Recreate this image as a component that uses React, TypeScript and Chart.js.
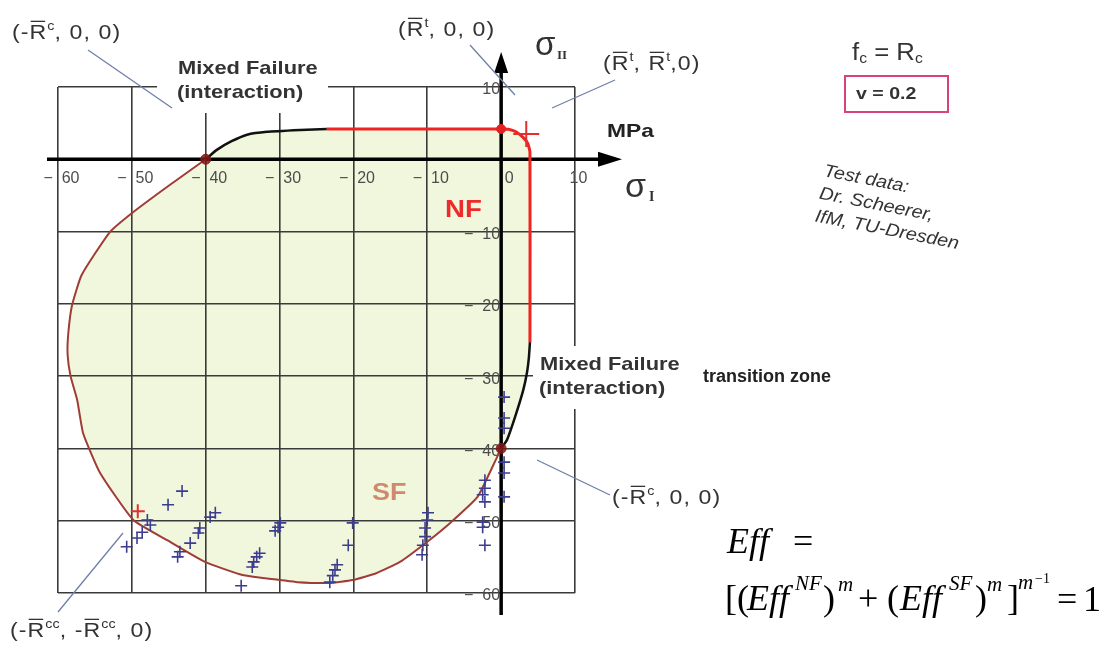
import { useEffect, useRef } from 'react';
import { Chart, registerables } from 'chart.js';

Chart.register(...registerables);

type Pt = [number, number];

// Failure envelope in the (σI, σII) plane, MPa – split by failure mode
const mixedTop: Pt[] = [
  [-40, 0], [-38.5, 1.3], [-36.5, 2.5], [-34.4, 3.4], [-31.7, 3.8], [-27.2, 4.05], [-23.6, 4.2],
];
const normalFracture: Pt[] = [
  [-23.6, 4.2], [0, 4.2], [1, 4.15], [2, 3.8], [3, 3.0], [3.6, 2.2], [3.9, 1.0], [3.9, -25.3],
];
const mixedTransition: Pt[] = [
  [3.9, -25.3], [3.75, -27.5], [3.5, -29.5], [3.0, -31.9], [1.9, -35.6], [0.8, -38.8], [0, -40],
];
const shearFracture: Pt[] = [
  [0, -40], [-1.2, -42.6], [-3.2, -46.7], [-6.9, -50.3], [-10, -52.9], [-13.7, -55.7], [-17, -57.3],
  [-20.1, -58.2], [-23.2, -58.6], [-27.6, -58.5], [-29.9, -58.2], [-32.5, -57.9], [-35.4, -57.4],
  [-40.1, -55.7], [-45.2, -52.7], [-49.8, -49.9], [-54.3, -43.4], [-56.6, -37.9], [-57.4, -33.3],
  [-58.3, -30], [-58.7, -27], [-58.6, -24], [-58.1, -20.2], [-56.8, -16], [-53, -10.1],
  [-49.8, -7.3], [-45.2, -3.8], [-40, 0],
];

// Biaxial test results (Scheerer, IfM TU Dresden)
const testData: Pt[] = [
  [-43.2, -45.9], [-45.1, -47.8], [-47.9, -49.9], [-47.5, -50.6], [-48.6, -51.6], [-49.3, -52.4], [-50.7, -53.6],
  [-38.7, -48.9], [-39.4, -49.5], [-40.8, -51.0], [-41.0, -51.7], [-42.1, -53.1], [-43.5, -54.3], [-43.8, -55.0],
  [-29.9, -50.3], [-30.2, -50.9], [-30.6, -51.4], [-32.7, -54.5], [-33.1, -55.0], [-33.5, -55.7], [-33.7, -56.4], [-35.2, -59.0],
  [-20.1, -50.3], [-20.7, -53.4], [-22.2, -56.1], [-22.5, -56.8], [-22.8, -57.6], [-23.2, -58.5],
  [-9.9, -48.9], [-10.0, -49.9], [-10.3, -51.0], [-10.3, -52.2], [-10.6, -53.4], [-10.7, -54.7],
  [-2.2, -44.4], [-2.2, -45.5], [-2.5, -46.4], [-2.2, -47.4], [-2.5, -50.2], [-2.5, -50.9], [-2.2, -53.4],
  [0.4, -32.9], [0.4, -35.8], [0.4, -37.2], [0.4, -41.9], [0.4, -43.4], [0.4, -46.7],
];

// Characteristic strength points
const uniaxialPoints: Pt[] = [[-40, 0], [0, -40]];
const tensilePoint: Pt[] = [[0, 4.2]];
const biaxialPoints: Pt[] = [[3.4, 3.5], [-49.2, -48.7]];

// Axis tick values
const xTicks = [-60, -50, -40, -30, -20, -10, 0, 10];
const yTicks = [10, -10, -20, -30, -40, -50, -60];

const SANS = "'Liberation Sans', Arial, sans-serif";
const SERIF = "'Liberation Serif', 'Times New Roman', serif";
const FILL = '#f1f7dc';

type Run = { t: string; sup?: boolean; sub?: boolean; bar?: boolean };
type RunOpts = {
  size: number; weight?: string; style?: string; color?: string; ls?: number; family?: string; sx?: number;
};

// Draws a sequence of text runs (with super/subscripts and overbars), optionally stretched horizontally
function drawRuns(ctx: CanvasRenderingContext2D, x: number, y: number, parts: Run[], o: RunOpts) {
  const family = o.family ?? SANS;
  ctx.save();
  ctx.translate(x, y);
  ctx.scale(o.sx ?? 1, 1);
  ctx.fillStyle = o.color ?? '#333';
  ctx.strokeStyle = o.color ?? '#333';
  ctx.textAlign = 'left';
  ctx.textBaseline = 'alphabetic';
  let cx = 0;
  for (const r of parts) {
    const small = r.sup || r.sub;
    const size = small ? Math.round(o.size * 0.62) : o.size;
    ctx.font = `${o.style ?? 'normal'} ${o.weight ?? 'normal'} ${size}px ${family}`;
    (ctx as any).letterSpacing = `${small ? 0 : o.ls ?? 0}px`;
    const dy = r.sup ? -o.size * 0.42 : r.sub ? o.size * 0.12 : 0;
    ctx.fillText(r.t, cx, dy);
    const w = ctx.measureText(r.t).width;
    if (r.bar) {
      ctx.lineWidth = 1.3;
      ctx.beginPath();
      ctx.moveTo(cx + 1, -o.size * 0.84);
      ctx.lineTo(cx + w - (o.ls ?? 0) - 1, -o.size * 0.84);
      ctx.stroke();
    }
    cx += w;
  }
  (ctx as any).letterSpacing = '0px';
  ctx.restore();
}

function text(ctx: CanvasRenderingContext2D, s: string, x: number, y: number, o: RunOpts) {
  drawRuns(ctx, x, y, [{ t: s }], o);
}

const envelopePlugin = {
  id: 'envelope',
  beforeDraw(chart: any) {
    const { ctx, scales } = chart;
    const xs = scales.x;
    const ys = scales.y;
    ctx.save();
    ctx.fillStyle = '#ffffff';
    ctx.fillRect(0, 0, chart.width, chart.height);
    // shaded area enclosed by the failure envelope
    const boundary = [...mixedTop, ...normalFracture, ...mixedTransition, ...shearFracture];
    ctx.beginPath();
    boundary.forEach(([vx, vy], i) => {
      const px = xs.getPixelForValue(vx);
      const py = ys.getPixelForValue(vy);
      if (i === 0) ctx.moveTo(px, py);
      else ctx.lineTo(px, py);
    });
    ctx.closePath();
    ctx.fillStyle = FILL;
    ctx.fill();
    ctx.restore();
  },
  beforeDatasetsDraw(chart: any) {
    const { ctx, scales, chartArea } = chart;
    const xs = scales.x;
    const ys = scales.y;
    const x0 = xs.getPixelForValue(0);
    const y0 = ys.getPixelForValue(0);
    ctx.save();
    // white backing behind the "Mixed Failure" captions
    ctx.fillStyle = '#ffffff';
    ctx.fillRect(157, 45, 171, 68);
    ctx.fillRect(533, 346, 160, 63);

    // coordinate axes with arrow heads
    ctx.strokeStyle = '#000';
    ctx.fillStyle = '#000';
    ctx.lineWidth = 3.5;
    const xEnd = chartArea.right + 47;
    const yTop = chartArea.top - 35;
    ctx.beginPath();
    ctx.moveTo(chartArea.left - 11, y0);
    ctx.lineTo(xEnd - 20, y0);
    ctx.moveTo(x0, chartArea.bottom + 22);
    ctx.lineTo(x0, yTop + 18);
    ctx.stroke();
    ctx.beginPath();
    ctx.moveTo(xEnd, y0);
    ctx.lineTo(xEnd - 24, y0 - 7.5);
    ctx.lineTo(xEnd - 24, y0 + 7.5);
    ctx.closePath();
    ctx.fill();
    ctx.beginPath();
    ctx.moveTo(x0, yTop);
    ctx.lineTo(x0 - 7, yTop + 21);
    ctx.lineTo(x0 + 7, yTop + 21);
    ctx.closePath();
    ctx.fill();

    // tick labels placed along the axes
    ctx.font = `16px ${SANS}`;
    ctx.fillStyle = '#4d4d4d';
    ctx.textBaseline = 'middle';
    ctx.textAlign = 'center';
    xTicks.forEach((v) => {
      const label = v < 0 ? `\u2212  ${-v}` : v === 0 ? '  0' : `${v}`;
      ctx.fillText(label, xs.getPixelForValue(v) + 3.5, y0 + 19);
    });
    ctx.textAlign = 'right';
    yTicks.forEach((v) => {
      const label = v < 0 ? `\u2212  ${-v}` : `${v}`;
      ctx.fillText(label, x0 - 1, ys.getPixelForValue(v) + 3);
    });
    ctx.restore();
  },
  afterDraw(chart: any) {
    const ctx: CanvasRenderingContext2D = chart.ctx;
    ctx.save();

    // leader lines to the strength points
    ctx.strokeStyle = '#6f7fa8';
    ctx.lineWidth = 1.3;
    const leaders: [number, number, number, number][] = [
      [88, 50, 172, 108],
      [470, 45, 515, 95],
      [615, 80, 552, 108],
      [537, 460, 610, 495],
      [123, 533, 58, 612],
    ];
    leaders.forEach(([a, b, c, d]) => {
      ctx.beginPath();
      ctx.moveTo(a, b);
      ctx.lineTo(c, d);
      ctx.stroke();
    });

    const coord: RunOpts = { size: 21, color: '#333', ls: 1, sx: 1.1 };
    drawRuns(ctx, 12, 39, [{ t: '(-' }, { t: 'R', bar: true }, { t: 'c', sup: true }, { t: ', 0, 0)' }], coord);
    drawRuns(ctx, 398, 36, [{ t: '(' }, { t: 'R', bar: true }, { t: 't', sup: true }, { t: ', 0, 0)' }], coord);
    drawRuns(ctx, 603, 70, [{ t: '(' }, { t: 'R', bar: true }, { t: 't', sup: true }, { t: ', ' }, { t: 'R', bar: true }, { t: 't', sup: true }, { t: ',0)' }], coord);
    drawRuns(ctx, 612, 504, [{ t: '(-' }, { t: 'R', bar: true }, { t: 'c', sup: true }, { t: ', 0, 0)' }], coord);
    drawRuns(ctx, 10, 637, [{ t: '(-' }, { t: 'R', bar: true }, { t: 'cc', sup: true }, { t: ', -' }, { t: 'R', bar: true }, { t: 'cc', sup: true }, { t: ', 0)' }], coord);

    const caption: RunOpts = { size: 19, weight: 'bold', color: '#333', sx: 1.15 };
    text(ctx, 'Mixed Failure', 178, 74, caption);
    text(ctx, '(interaction)', 177, 98, caption);
    text(ctx, 'Mixed Failure', 540, 370, caption);
    text(ctx, '(interaction)', 539, 394, caption);
    text(ctx, 'transition zone', 703, 382, { size: 18, weight: 'bold', color: '#222' });
    text(ctx, 'MPa', 607, 137, { size: 19, weight: 'bold', color: '#222', sx: 1.2 });
    text(ctx, 'NF', 445, 217, { size: 24, weight: 'bold', color: '#ee2b2b', sx: 1.15 });
    text(ctx, 'SF', 372, 500, { size: 24, weight: 'bold', color: '#cf8a6e', sx: 1.12 });

    // axis names
    text(ctx, '\u03c3', 535, 55, { size: 33, color: '#333' });
    text(ctx, 'II', 557, 59, { size: 13, weight: 'bold', color: '#333', family: SERIF });
    text(ctx, '\u03c3', 625, 197, { size: 34, color: '#333' });
    text(ctx, 'I', 649, 201, { size: 14, weight: 'bold', color: '#333', family: SERIF });

    // material parameters
    drawRuns(ctx, 852, 60, [{ t: 'f' }, { t: 'c', sub: true }, { t: ' = R' }, { t: 'c', sub: true }], { size: 23, color: '#333', sx: 1.12 });
    ctx.strokeStyle = '#d9417b';
    ctx.lineWidth = 2;
    ctx.strokeRect(845, 76, 103, 36);
    text(ctx, 'v = 0.2', 856, 99, { size: 17, weight: 'bold', color: '#333', sx: 1.15 });

    // data source note
    ctx.save();
    ctx.translate(823, 176);
    ctx.rotate((11 * Math.PI) / 180);
    const note: RunOpts = { size: 18, style: 'italic', color: '#333', sx: 1.1 };
    text(ctx, 'Test data:', 0, 0, note);
    text(ctx, 'Dr. Scheerer,', 0, 23, note);
    text(ctx, 'IfM, TU-Dresden', 0, 46, note);
    ctx.restore();

    // interaction formula
    const it: RunOpts = { size: 36, style: 'italic', color: '#000', family: SERIF };
    const up: RunOpts = { size: 36, color: '#000', family: SERIF };
    const sm: RunOpts = { size: 21, style: 'italic', color: '#000', family: SERIF };
    text(ctx, 'Eff', 727, 553, it);
    text(ctx, '=', 793, 553, up);
    text(ctx, '[(', 725, 610, up);
    text(ctx, 'Eff', 747, 610, it);
    text(ctx, 'NF', 795, 590, sm);
    text(ctx, ')', 823, 610, up);
    text(ctx, 'm', 838, 591, sm);
    text(ctx, '+', 858, 610, up);
    text(ctx, '(', 887, 610, up);
    text(ctx, 'Eff', 900, 610, it);
    text(ctx, 'SF', 949, 590, sm);
    text(ctx, ')', 975, 610, up);
    text(ctx, 'm', 987, 591, sm);
    text(ctx, ']', 1007, 610, up);
    text(ctx, 'm', 1018, 589, sm);
    text(ctx, '\u22121', 1035, 583, { size: 14, color: '#000', family: SERIF });
    text(ctx, '=', 1057, 611, up);
    text(ctx, '1', 1083, 611, up);

    ctx.restore();
  },
};

const toXY = (pts: Pt[]) => pts.map(([x, y]) => ({ x, y }));

export default function App() {
  const ref = useRef<HTMLCanvasElement>(null);

  useEffect(() => {
    if (!ref.current) return;
    const curve = (pts: Pt[], color: string, width: number, order: number) => ({
      data: toXY(pts),
      showLine: true,
      borderColor: color,
      borderWidth: width,
      pointRadius: 0,
      tension: 0.15,
      fill: false,
      order,
    });
    const chart = new Chart(ref.current, {
      type: 'scatter',
      data: {
        datasets: [
          curve(mixedTop, '#111111', 2.5, 6),
          curve(normalFracture, '#f02222', 3, 5),
          curve(mixedTransition, '#111111', 2.5, 6),
          curve(shearFracture, '#a03c36', 2, 6),
          {
            data: toXY(testData),
            pointStyle: 'cross',
            pointRadius: 6,
            borderColor: '#3d3d8f',
            borderWidth: 1.6,
            showLine: false,
            order: 2,
          },
          {
            data: toXY(uniaxialPoints),
            pointStyle: 'circle',
            pointRadius: 5,
            backgroundColor: 'rgba(128,22,22,0.85)',
            borderColor: 'rgba(128,22,22,0.85)',
            showLine: false,
            order: 1,
          },
          {
            data: toXY(tensilePoint),
            pointStyle: 'circle',
            pointRadius: 4.5,
            backgroundColor: '#e52020',
            borderColor: '#e52020',
            showLine: false,
            order: 1,
          },
          {
            data: toXY(biaxialPoints),
            pointStyle: 'cross',
            pointRadius: [13, 7],
            borderColor: '#e03030',
            borderWidth: 2,
            showLine: false,
            order: 1,
          },
        ] as any,
      },
      options: {
        animation: false,
        responsive: false,
        maintainAspectRatio: false,
        layout: { padding: { left: 58, right: 527, top: 87, bottom: 55 } },
        plugins: { legend: { display: false }, tooltip: { enabled: false } },
        scales: {
          x: {
            type: 'linear',
            min: -60,
            max: 10,
            ticks: { stepSize: 10, display: false },
            grid: { color: '#3a3a3a', lineWidth: 1.6, drawTicks: false },
            border: { display: false },
          },
          y: {
            type: 'linear',
            min: -60,
            max: 10,
            ticks: { stepSize: 10, display: false },
            grid: { color: '#3a3a3a', lineWidth: 1.6, drawTicks: false },
            border: { display: false },
          },
        },
      },
      plugins: [envelopePlugin],
    });
    return () => chart.destroy();
  }, []);

  return (
    <div style={{ position: 'fixed', left: 0, top: 0, width: 1102, height: 648, background: '#fff' }}>
      <canvas ref={ref} width={1102} height={648} style={{ display: 'block' }} />
    </div>
  );
}
